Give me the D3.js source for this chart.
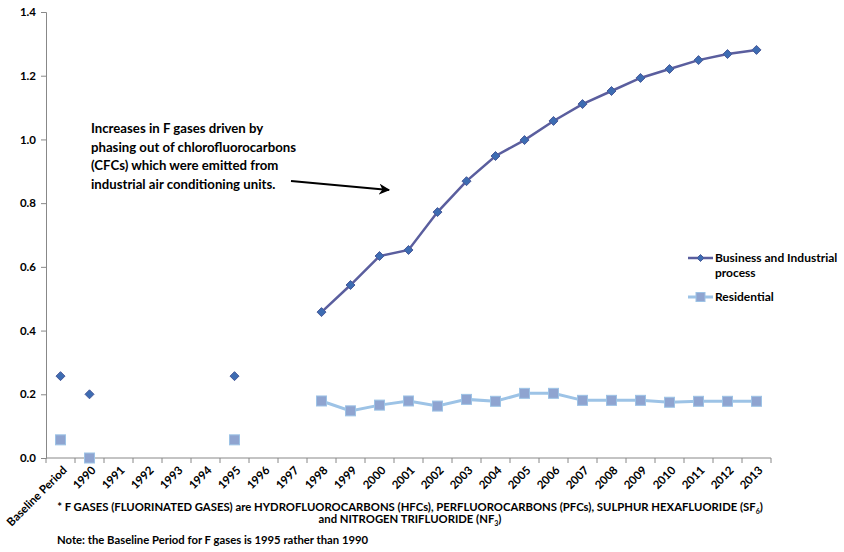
<!DOCTYPE html>
<html>
<head>
<meta charset="utf-8">
<script src="https://cdn.jsdelivr.net/npm/d3@7"></script>
<style>
  body { margin: 0; background: #fff; }
  svg text { font-family: Lato, "Open Sans", sans-serif; font-weight: bold; fill: #000; }
</style>
</head>
<body>
<div id="chart"></div>
<script>
// categories along the x axis
var categories = ["Baseline Period", "1990", "1991", "1992", "1993", "1994", "1995", "1996", "1997",
  "1998", "1999", "2000", "2001", "2002", "2003", "2004", "2005", "2006", "2007", "2008",
  "2009", "2010", "2011", "2012", "2013"];

// null = no value that year
var business = [0.257, 0.20, null, null, null, null, 0.257, null, null,
  0.458, 0.543, 0.634, 0.653, 0.772, 0.869, 0.948, 0.998, 1.058, 1.111, 1.152,
  1.193, 1.221, 1.249, 1.268, 1.281];

var residential = [0.057, 0.0, null, null, null, null, 0.057, null, null,
  0.179, 0.148, 0.166, 0.179, 0.163, 0.184, 0.178, 0.203, 0.203, 0.181, 0.181,
  0.181, 0.175, 0.178, 0.178, 0.178];

// lines are only drawn from this year on; earlier values are lone markers
var lineFrom = "1998";

var yTicks = [0, 0.2, 0.4, 0.6, 0.8, 1.0, 1.2, 1.4];

var annotation = ["Increases in F gases driven by", "phasing out of chlorofluorocarbons",
  "(CFCs) which were emitted from", "industrial air conditioning units."];

var W = 844, H = 552;
var mLeft = 46, mRight = 771, mTop = 12, mBottom = 458;

var svg = d3.select("#chart").append("svg")
  .attr("width", W)
  .attr("height", H);

var x = d3.scaleBand()
  .domain(categories)
  .range([mLeft, mRight]);

var y = d3.scaleLinear()
  .domain([0, 1.4])
  .range([mBottom, mTop]);

// y axis
var yAxis = svg.append("g")
  .attr("transform", "translate(" + mLeft + ",0)")
  .call(d3.axisLeft(y).tickValues(yTicks).tickSize(5).tickPadding(5).tickFormat(d3.format(".1f")));
yAxis.selectAll("text").style("font-size", "11.5px");
yAxis.selectAll("line, path").attr("stroke", "#888");

// x axis, ticks on category boundaries
var xAxis = svg.append("g")
  .attr("transform", "translate(0," + mBottom + ")");
xAxis.append("line")
  .attr("x1", mLeft).attr("x2", mRight)
  .attr("y1", 0).attr("y2", 0)
  .attr("stroke", "#888");
xAxis.selectAll(".xtick")
  .data(categories.concat(["end"]))
  .enter()
  .append("line")
  .attr("class", "xtick")
  .attr("x1", function(d, i){ return mLeft + i * x.bandwidth(); })
  .attr("x2", function(d, i){ return mLeft + i * x.bandwidth(); })
  .attr("y1", 0).attr("y2", 5)
  .attr("stroke", "#888");
xAxis.selectAll(".xlbl")
  .data(categories)
  .enter()
  .append("text")
  .attr("class", "xlbl")
  .attr("text-anchor", "end")
  .style("font-size", "11.5px")
  .attr("transform", function(d){
    var cx = x(d) + x.bandwidth() / 2 + 7;
    return "translate(" + cx + ",13) rotate(-45)";
  })
  .text(String);

// lines
var startIdx = categories.indexOf(lineFrom);
var line = d3.line()
  .defined(function(d, i){ return d != null && i >= startIdx; })
  .x(function(d, i){ return x(categories[i]) + x.bandwidth() / 2; })
  .y(function(d){ return y(d); });

svg.append("path")
  .datum(residential)
  .attr("fill", "none")
  .attr("stroke", "#9dc3e6")
  .attr("stroke-width", 3)
  .attr("d", line);

svg.append("path")
  .datum(business)
  .attr("fill", "none")
  .attr("stroke", "#5a5e9e")
  .attr("stroke-width", 2.5)
  .attr("d", line);

// markers
var resPts = residential.map(function(v, i){ return {v: v, c: categories[i]}; })
  .filter(function(d){ return d.v != null; });
var busPts = business.map(function(v, i){ return {v: v, c: categories[i]}; })
  .filter(function(d){ return d.v != null; });

svg.selectAll(".sq")
  .data(resPts)
  .enter()
  .append("rect")
  .attr("class", "sq")
  .attr("x", function(d){ return x(d.c) + x.bandwidth() / 2 - 5; })
  .attr("y", function(d){ return y(d.v) - 5; })
  .attr("width", 10)
  .attr("height", 10)
  .attr("fill", "#8fa4d0")
  .attr("stroke", "#9dc3e6")
  .attr("stroke-width", 1);

svg.selectAll(".dm")
  .data(busPts)
  .enter()
  .append("path")
  .attr("class", "dm")
  .attr("d", "M0,-4.5L4.5,0L0,4.5L-4.5,0Z")
  .attr("transform", function(d){ return "translate(" + (x(d.c) + x.bandwidth() / 2) + "," + y(d.v) + ")"; })
  .attr("fill", "#3d6cb2")
  .attr("stroke", "#4a5a9a")
  .attr("stroke-width", 1);

// annotation
svg.append("g").selectAll("text")
  .data(annotation)
  .enter()
  .append("text")
  .attr("x", 91)
  .attr("y", function(d, i){ return 133 + i * 18.5; })
  .style("font-size", "13.2px")
  .text(String);

svg.append("defs").append("marker")
  .attr("id", "arrow")
  .attr("viewBox", "0 0 10 10")
  .attr("refX", 9).attr("refY", 5)
  .attr("markerWidth", 5).attr("markerHeight", 5)
  .attr("orient", "auto")
  .append("path")
  .attr("d", "M0,0L10,5L0,10L3,5Z")
  .attr("fill", "#000");

svg.append("line")
  .attr("x1", 291).attr("y1", 181)
  .attr("x2", 389).attr("y2", 190)
  .attr("stroke", "#000")
  .attr("stroke-width", 2.2)
  .attr("marker-end", "url(#arrow)");

// legend
var lg = svg.append("g");
lg.append("line").attr("x1", 688).attr("x2", 713).attr("y1", 258).attr("y2", 258)
  .attr("stroke", "#5a5e9e").attr("stroke-width", 2.5);
lg.append("path").attr("d", "M0,-3.5L3.5,0L0,3.5L-3.5,0Z")
  .attr("transform", "translate(700.5,258)")
  .attr("fill", "#3d6cb2").attr("stroke", "#4a5a9a");
lg.append("text").attr("x", 715).attr("y", 262).style("font-size", "12px").text("Business and Industrial");
lg.append("text").attr("x", 715).attr("y", 277).style("font-size", "12px").text("process");
lg.append("line").attr("x1", 688).attr("x2", 713).attr("y1", 297).attr("y2", 297)
  .attr("stroke", "#9dc3e6").attr("stroke-width", 3);
lg.append("rect").attr("x", 696).attr("y", 292.5).attr("width", 9).attr("height", 9)
  .attr("fill", "#8fa4d0").attr("stroke", "#9dc3e6");
lg.append("text").attr("x", 715).attr("y", 301).style("font-size", "12px").text("Residential");

// footnotes
var f1 = svg.append("text").attr("x", 410).attr("y", 511).attr("text-anchor", "middle")
  .style("font-size", "11.3px");
f1.append("tspan").text("* F GASES (FLUORINATED GASES) are HYDROFLUOROCARBONS (HFCs), PERFLUOROCARBONS (PFCs), SULPHUR HEXAFLUORIDE (SF");
f1.append("tspan").attr("dy", 3).style("font-size", "7px").text("6");
f1.append("tspan").attr("dy", -3).text(")");

var f2 = svg.append("text").attr("x", 410).attr("y", 523).attr("text-anchor", "middle")
  .style("font-size", "11.3px");
f2.append("tspan").text("and NITROGEN TRIFLUORIDE (NF");
f2.append("tspan").attr("dy", 3).style("font-size", "7px").text("3");
f2.append("tspan").attr("dy", -3).text(")");

svg.append("text").attr("x", 57).attr("y", 544).style("font-size", "11.3px")
  .text("Note: the Baseline Period for F gases is 1995 rather than 1990");
</script>
</body>
</html>
